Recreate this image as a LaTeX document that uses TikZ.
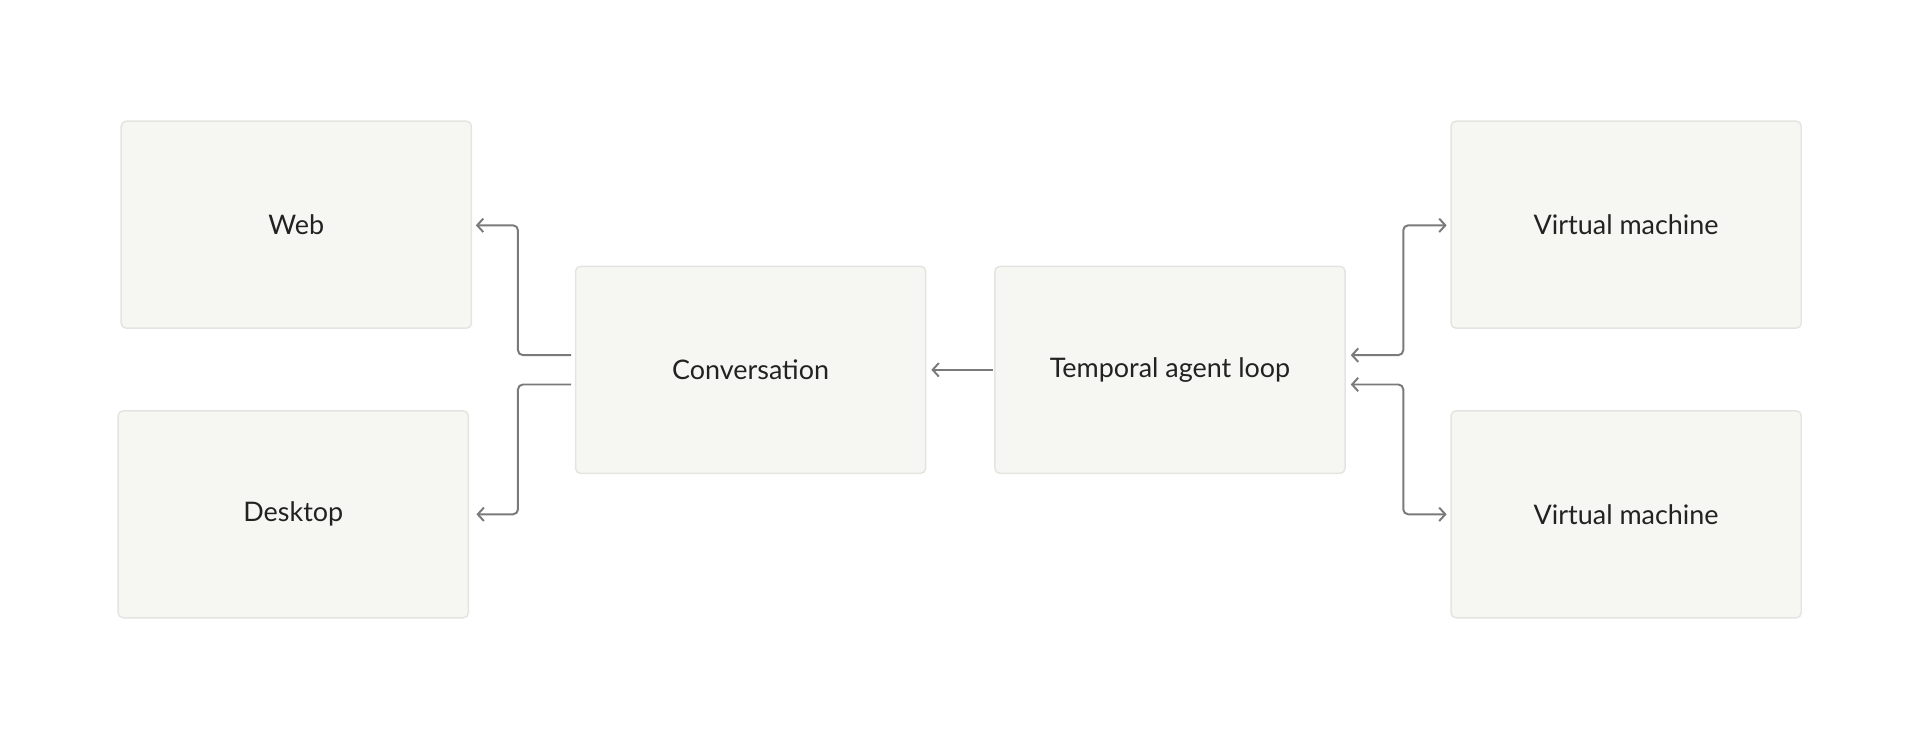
\documentclass[tikz,border=0pt]{standalone}
\usepackage{fontspec}
\setmainfont{Lato}
\usetikzlibrary{arrows.meta,calc}
\definecolor{boxfill}{HTML}{F6F6F2}
\definecolor{boxline}{HTML}{E4E4E0}
\definecolor{arr}{HTML}{7A7A7A}
\definecolor{txt}{HTML}{222222}
\begin{document}
\begin{tikzpicture}[x=1pt,y=-1pt,
 box/.style={draw=boxline,line width=1.2pt,fill=boxfill,rounded corners=4pt,minimum width=286pt,minimum height=169pt,inner sep=0pt,font=\fontsize{22}{26}\selectfont,text=txt},
 con/.style={draw=arr,line width=1.6pt,rounded corners=4pt,-{Straight Barb[length=5pt,width=11pt]}}]
\useasboundingbox (0,0) rectangle (1568,603.5);
\node[box] (web) at (242,183.5) {Web};
\node[box] (desk) at (239.5,420) {Desktop};
\node[box] (conv) at (613,302) {Conversation};
\node[box] (temp) at (955.5,302) {Temporal agent loop};
\node[box] (vm1) at (1328,183.5) {Virtual machine};
\node[box] (vm2) at (1328,420) {Virtual machine};
\coordinate (c1) at ($(conv.west)+(-3,-12)$);
\coordinate (c2) at ($(conv.west)+(-3,12)$);
\draw[con] (c1) -| (423,184) -- ($(web.east)+(3,0.5)$);
\draw[con] (c2) -| (423,420) -- ($(desk.east)+(6,0)$);
\draw[con] ($(temp.west)+(-1,0)$) -- ($(conv.east)+(4,0)$);
\draw[con,{Straight Barb[length=5pt,width=11pt]}-{Straight Barb[length=5pt,width=11pt]}] ($(temp.east)+(4,-12)$) -| (1146,184) -- ($(vm1.west)+(-3,0.5)$);
\draw[con,{Straight Barb[length=5pt,width=11pt]}-{Straight Barb[length=5pt,width=11pt]}] ($(temp.east)+(4,12)$) -| (1146,420) -- ($(vm2.west)+(-3,0)$);
\end{tikzpicture}
\end{document}
